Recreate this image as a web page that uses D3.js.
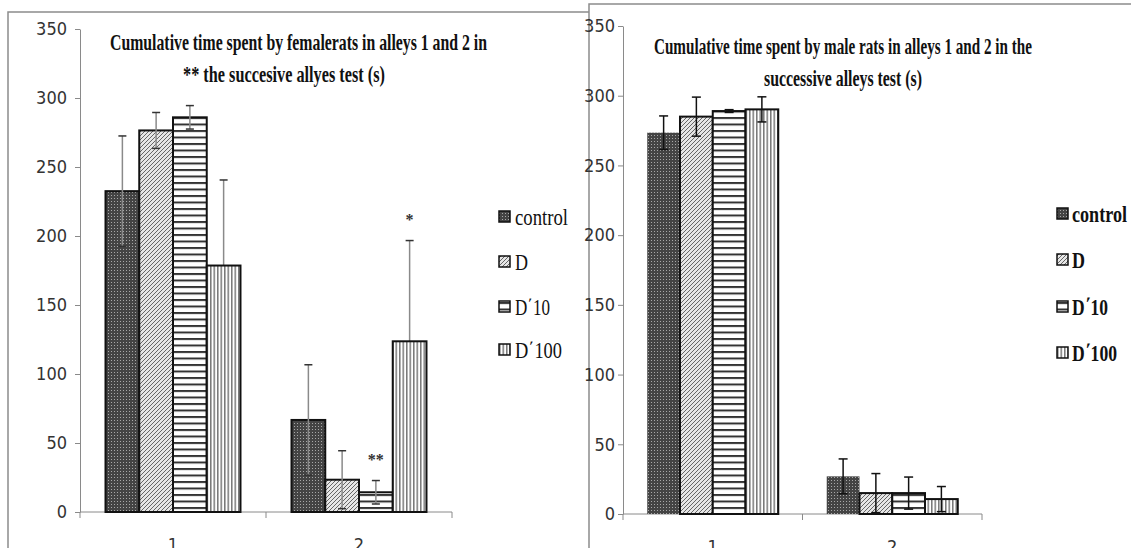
<!DOCTYPE html>
<html>
<head>
<meta charset="utf-8">
<script src="https://cdn.jsdelivr.net/npm/d3@7"></script>
<style>
  body { margin: 0; background: #fff; }
  svg { display: block; }
  .axis text { font-family: "Liberation Sans Narrow", "DejaVu Sans Condensed", sans-serif; font-stretch: condensed; font-size: 18px; fill: #333; }
  .axis path, .axis line { stroke: #8a8a8a; }
</style>
</head>
<body>
<script>
// alleys on the x axis, groups in the legend
var alleys = ["1", "2"];
var groups = ["control", "D", "D\u038410", "D\u0384100"];
var yTicks = [0, 50, 100, 150, 200, 250, 300, 350];

// female rats, mean and error per group
var femaleAlley1 = [232.5, 276.5, 286, 178.6];
var femaleAlley1Err = [40, 13, 8.5, 62];
var femaleAlley2 = [66.7, 23.4, 14.3, 123.7];
var femaleAlley2Err = [40, 21, 8.5, 73];
var femaleStars = [{alley: "2", group: "D\u038410", mark: "**"}, {alley: "2", group: "D\u0384100", mark: "*"}];

// male rats
var maleAlley1 = [273.5, 285, 289, 290.2];
var maleAlley1Err = [12, 14, 1, 9];
var maleAlley2 = [27, 15, 15, 10.7];
var maleAlley2Err = [12.5, 14, 11.5, 9];

var w = 1131, h = 548;

var svg = d3.select("body").append("svg")
    .attr("width", w)
    .attr("height", h);

var defs = svg.append("defs");

// fill patterns like the old excel ones
var p = defs.append("pattern").attr("id", "pat0")
    .attr("patternUnits", "userSpaceOnUse").attr("width", 3).attr("height", 3);
p.append("rect").attr("width", 3).attr("height", 3).attr("fill", "#444");
p.append("rect").attr("width", 1).attr("height", 1).attr("fill", "#a8a8a8");

p = defs.append("pattern").attr("id", "pat1")
    .attr("patternUnits", "userSpaceOnUse").attr("width", 4).attr("height", 4);
p.append("rect").attr("width", 4).attr("height", 4).attr("fill", "#e6e6e6");
p.append("path").attr("d", "M-1,1 l2,-2 M0,4 l4,-4 M3,5 l2,-2")
    .attr("stroke", "#666").attr("stroke-width", 1);

p = defs.append("pattern").attr("id", "pat2")
    .attr("patternUnits", "userSpaceOnUse").attr("width", 6).attr("height", 6.5);
p.append("rect").attr("width", 6).attr("height", 6.5).attr("fill", "#fff");
p.append("rect").attr("width", 6).attr("height", 2).attr("fill", "#333");

p = defs.append("pattern").attr("id", "pat3")
    .attr("patternUnits", "userSpaceOnUse").attr("width", 3.5).attr("height", 3);
p.append("rect").attr("width", 3.5).attr("height", 3).attr("fill", "#fff");
p.append("rect").attr("width", 1.5).attr("height", 3).attr("fill", "#777");

// the two chart frames
svg.append("rect")
    .attr("x", 8).attr("y", 12).attr("width", 700).attr("height", 600)
    .attr("fill", "#fff").attr("stroke", "#8c8c8c").attr("stroke-width", 1.5);
svg.append("rect")
    .attr("x", 589).attr("y", 4).attr("width", 600).attr("height", 600)
    .attr("fill", "#fff").attr("stroke", "#8c8c8c").attr("stroke-width", 1.5);

var panels = [
  {
    means: [femaleAlley1, femaleAlley2],
    errs: [femaleAlley1Err, femaleAlley2Err],
    stars: femaleStars,
    left: 80, right: 452, yZero: 512, yTop: 29,
    pad: 0.756, labelPad: 8,
    errColor: "#8a8a8a", capColor: "#333", capW: 8, errBehind: ["D\u0384100"],
    noOutline: [],
    titles: [
      {text: "Cumulative time spent by femalerats in alleys 1 and 2 in", x: 110, y: 50, len: 377},
      {text: "**  the succesive allyes  test (s)", x: 183, y: 82, len: 202}
    ],
    legX: 499, legY: [225, 270, 315, 358], legW: [53, 13, 35, 47], legBold: false
  },
  {
    means: [maleAlley1, maleAlley2],
    errs: [maleAlley1Err, maleAlley2Err],
    stars: [],
    left: 623, right: 982, yZero: 514, yTop: 26,
    pad: 0.74, labelPad: 3,
    errColor: "#111", capColor: "#111", capW: 9, errBehind: [],
    noOutline: ["control"],
    titles: [
      {text: "Cumulative time spent by male rats in alleys 1 and 2 in the", x: 654, y: 54, len: 378},
      {text: "successive alleys  test (s)", x: 764, y: 86, len: 158}
    ],
    legX: 1057, legY: [222, 268, 315, 361], legW: [55, 13, 36, 45], legBold: true
  }
];

panels.forEach(function(cfg) {
  var g = svg.append("g");

  var y = d3.scaleLinear().domain([0, 350]).range([cfg.yZero, cfg.yTop]);
  var x0 = d3.scaleBand().domain(alleys).range([cfg.left, cfg.right]);
  var x1 = d3.scaleBand().domain(groups).range([0, x0.bandwidth()])
      .paddingInner(0).paddingOuter(cfg.pad);

  var yAxis = d3.axisLeft(y).tickValues(yTicks).tickSize(5).tickSizeOuter(0)
      .tickPadding(cfg.labelPad);
  g.append("g")
      .attr("class", "axis")
      .attr("transform", "translate(" + cfg.left + ",0)")
      .call(yAxis);

  // x axis line, ticks between the alleys
  g.append("line")
      .attr("x1", cfg.left).attr("x2", cfg.right)
      .attr("y1", y(0)).attr("y2", y(0))
      .attr("stroke", "#8a8a8a");
  var edges = alleys.map(function(a) { return x0(a); }).concat([cfg.right]);
  g.selectAll(".xtick")
      .data(edges)
      .enter().append("line")
      .attr("class", "xtick")
      .attr("x1", function(d) { return d; }).attr("x2", function(d) { return d; })
      .attr("y1", y(0)).attr("y2", y(0) + 6)
      .attr("stroke", "#8a8a8a");
  g.selectAll(".xlabel")
      .data(alleys)
      .enter().append("text")
      .attr("class", "axis")
      .attr("x", function(d) { return x0(d) + x0.bandwidth() / 2; })
      .attr("y", y(0) + 39)
      .attr("text-anchor", "middle")
      .style("font-family", "'Liberation Sans Narrow','DejaVu Sans Condensed',sans-serif")
      .style("font-size", "18px")
      .attr("fill", "#333")
      .text(function(d) { return d; });

  var rows = [];
  alleys.forEach(function(a, i) {
    groups.forEach(function(s, j) {
      rows.push({alley: a, group: s, idx: j, value: cfg.means[i][j], err: cfg.errs[i][j]});
    });
  });

  function errBar(sel) {
    sel.append("line")
        .attr("x1", function(d) { return x0(d.alley) + x1(d.group) + x1.bandwidth() / 2; })
        .attr("x2", function(d) { return x0(d.alley) + x1(d.group) + x1.bandwidth() / 2; })
        .attr("y1", function(d) { return y(d.value - d.err); })
        .attr("y2", function(d) { return y(d.value + d.err); })
        .attr("stroke", cfg.errColor).attr("stroke-width", 1.5);
    [1, -1].forEach(function(sign) {
      sel.append("line")
          .attr("x1", function(d) { return x0(d.alley) + x1(d.group) + x1.bandwidth() / 2 - cfg.capW / 2; })
          .attr("x2", function(d) { return x0(d.alley) + x1(d.group) + x1.bandwidth() / 2 + cfg.capW / 2; })
          .attr("y1", function(d) { return y(d.value + sign * d.err); })
          .attr("y2", function(d) { return y(d.value + sign * d.err); })
          .attr("stroke", cfg.capColor).attr("stroke-width", 1.5);
    });
  }

  // some error bars sit behind the bar
  g.selectAll(".errback")
      .data(rows.filter(function(d) { return cfg.errBehind.indexOf(d.group) >= 0; }))
      .enter().append("g")
      .attr("class", "errback")
      .call(errBar);

  g.selectAll(".bar")
      .data(rows)
      .enter().append("rect")
      .attr("class", "bar")
      .attr("x", function(d) { return x0(d.alley) + x1(d.group); })
      .attr("width", x1.bandwidth())
      .attr("y", function(d) { return y(d.value); })
      .attr("height", function(d) { return y(0) - y(d.value); })
      .attr("fill", function(d) { return "url(#pat" + d.idx + ")"; })
      .attr("stroke", function(d) { return cfg.noOutline.indexOf(d.group) >= 0 ? "none" : "#111"; })
      .attr("stroke-width", 2);

  g.selectAll(".errfront")
      .data(rows.filter(function(d) { return cfg.errBehind.indexOf(d.group) < 0; }))
      .enter().append("g")
      .attr("class", "errfront")
      .call(errBar);

  // significance marks
  g.selectAll(".star")
      .data(cfg.stars)
      .enter().append("text")
      .attr("class", "star")
      .attr("x", function(d) { return x0(d.alley) + x1(d.group) + x1.bandwidth() / 2; })
      .attr("y", function(d) {
        var r = rows.filter(function(q) { return q.alley == d.alley && q.group == d.group; })[0];
        return y(r.value + r.err) - 16;
      })
      .attr("text-anchor", "middle")
      .style("font-family", "'Liberation Serif',serif")
      .style("font-weight", "bold")
      .style("font-size", "16px")
      .attr("fill", "#333")
      .text(function(d) { return d.mark; });

  // titles
  g.selectAll(".title")
      .data(cfg.titles)
      .enter().append("text")
      .attr("class", "title")
      .attr("x", function(d) { return d.x; })
      .attr("y", function(d) { return d.y; })
      .attr("textLength", function(d) { return d.len; })
      .attr("lengthAdjust", "spacingAndGlyphs")
      .style("font-family", "'Liberation Serif',serif")
      .style("font-weight", "bold")
      .style("font-size", "23px")
      .attr("fill", "#111")
      .text(function(d) { return d.text; });

  // legend
  var leg = g.selectAll(".leg")
      .data(groups)
      .enter().append("g")
      .attr("class", "leg")
      .attr("transform", function(d, i) { return "translate(" + cfg.legX + "," + cfg.legY[i] + ")"; });
  leg.append("rect")
      .attr("x", 0).attr("y", -14)
      .attr("width", 11).attr("height", 11)
      .attr("fill", function(d, i) { return "url(#pat" + i + ")"; })
      .attr("stroke", "#111").attr("stroke-width", 1.5);
  leg.append("text")
      .attr("x", cfg.legX > 800 ? 15 : 16)
      .attr("y", 0)
      .attr("textLength", function(d, i) { return cfg.legW[i]; })
      .attr("lengthAdjust", "spacingAndGlyphs")
      .style("font-family", "'Liberation Serif',serif")
      .style("font-weight", cfg.legBold ? "bold" : "normal")
      .style("font-size", "23px")
      .attr("fill", "#111")
      .text(function(d) { return d; });
});
</script>
</body>
</html>
